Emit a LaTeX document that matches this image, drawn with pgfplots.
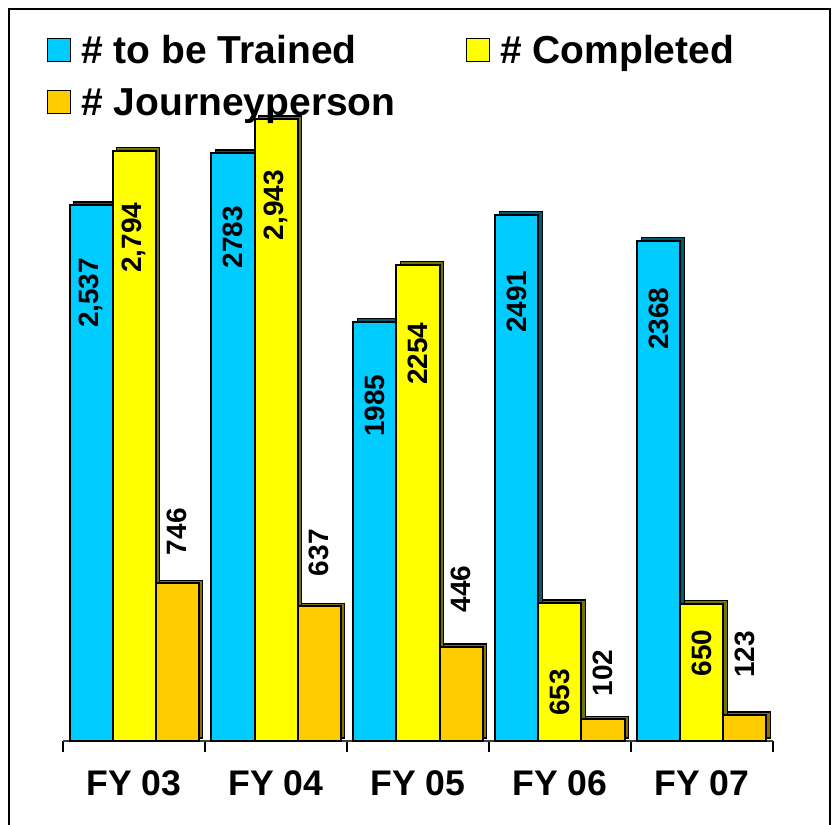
\documentclass[border=0pt]{standalone}
\usepackage{fontspec}
\setmainfont{Liberation Sans}
\usepackage{pgfplots}
\usepackage{pgfplotstable}
\pgfplotsset{compat=1.18}

\definecolor{cBlue}{HTML}{00CCFF}
\definecolor{cYellow}{HTML}{FFFF00}
\definecolor{cOrange}{HTML}{FFCC00}

% plain legend square, drawn with the basic layer so the bar shadow is not applied
\newcommand\legsquare[1]{%
  \pgfpathrectangle{\pgfpoint{0pt}{-3.8pt}}{\pgfpoint{11.5pt}{11.5pt}}%
  \pgfsetfillcolor{#1}\pgfsetstrokecolor{black}\pgfsetlinewidth{0.7pt}%
  \pgfusepath{fill,stroke}}

% x = fiscal year index, dy = label offset (pt) of the label's upper end from the bar top
\pgfplotstableread{
x y lbl dy
0 2537 {2,537} -26
1 2783 2783 -26
2 1985 1985 -26
3 2491 2491 -27.5
4 2368 2368 -23
}\trained
\pgfplotstableread{
x y lbl dy
0 2794 {2,794} -25.5
1 2943 {2,943} -25
2 2254 2254 -28.5
3 653 653 -32.5
4 650 650 -12.5
}\completed
\pgfplotstableread{
x y lbl dy
0 746 746 38
1 637 637 39
2 446 446 41
3 102 102 35.5
4 123 123 42.5
}\journey

\begin{document}
\begin{tikzpicture}[x=1pt,y=1pt]
\useasboundingbox (0,0) rectangle (418,-412.5);
\draw[line width=1pt] (4.5,-414) -- (4.5,-4.5) -- (415,-4.5) -- (415,-414);
\begin{axis}[
    at={(31.5pt,-370.5pt)}, anchor=south west,
    scale only axis, width=355pt, height=317pt,
    xmin=-0.5, xmax=4.5, ymin=0, ymax=3000,
    ybar=0pt, bar width=21.5pt,
    axis y line=none, axis x line*=bottom,
    x axis line style={line width=1.2pt, black!75},
    xtick={0,1,2,3,4},
    xticklabels={FY 03,FY 04,FY 05,FY 06,FY 07},
    major tick length=0pt,
    minor xtick={-0.5,0.5,1.5,2.5,3.5,4.5},
    minor tick length=5.5pt, tick align=outside,
    minor tick style={line width=0.7pt, black},
    xticklabel style={font=\fontsize{17.8}{20}\selectfont\bfseries, inner sep=0pt, anchor=north, yshift=-14.5pt},
    clip=false,
    point meta=explicit symbolic,
    nodes near coords,
    visualization depends on={\thisrow{dy} \as \dy},
    every node near coord/.append style={yshift=\dy pt, rotate=90, anchor=east, inner sep=0pt, text=black, font=\fontsize{14}{16}\selectfont\bfseries},
    legend columns=2,
    legend cell align=left,
    legend style={at={(-0.0225,1.1124)}, anchor=north west, draw=none, fill=none,
        inner sep=0pt, outer sep=0pt,
        font=\fontsize{19.5}{23}\selectfont\bfseries,
        nodes={inner xsep=5pt, inner ysep=0pt, text height=14pt, text depth=4pt},
        row sep=8pt,
        /tikz/every even column/.append style={column sep=30pt}},
]
\addplot[fill=cBlue, draw=black, line width=1pt,
    preaction={fill=cBlue!45!black, draw=black, line width=0.8pt, transform canvas={xshift=2pt,yshift=1.5pt}},
    legend image code/.code={\legsquare{cBlue}}]
    table[x=x, y=y, meta=lbl] {\trained};
\addlegendentry{\# to be Trained}
\addplot[fill=cYellow, draw=black, line width=1pt,
    preaction={fill=cYellow!45!black, draw=black, line width=0.8pt, transform canvas={xshift=2pt,yshift=1.5pt}},
    legend image code/.code={\legsquare{cYellow}}]
    table[x=x, y=y, meta=lbl] {\completed};
\addlegendentry{\# Completed}
\addplot[fill=cOrange, draw=black, line width=1pt,
    preaction={fill=cOrange!55!black, draw=black, line width=0.8pt, transform canvas={xshift=2pt,yshift=1.5pt}},
    legend image code/.code={\legsquare{cOrange}}]
    table[x=x, y=y, meta=lbl] {\journey};
\addlegendentry{\# Journeyperson}
\end{axis}
\end{tikzpicture}
\end{document}
